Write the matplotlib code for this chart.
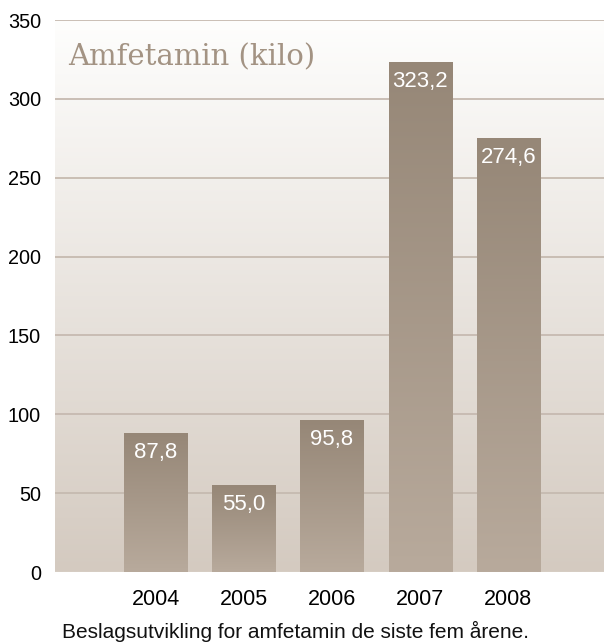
import numpy as np
import matplotlib.pyplot as plt
from matplotlib.colors import LinearSegmentedColormap

years = ['2004', '2005', '2006', '2007', '2008']
kilo = [87.8, 55.0, 95.8, 323.2, 274.6]
labels = ['87,8', '55,0', '95,8', '323,2', '274,6']

fig = plt.figure(figsize=(6.04, 6.43), dpi=100)
ax = fig.add_axes([55/604, 1-572/643, 549/604, 552/643])

x = np.arange(len(years))
ax.set_xlim(-1.142, 5.085)
ax.set_ylim(0, 350)

# background gradient
bg = LinearSegmentedColormap.from_list('bg', ['#d4cac0', '#fefefd'])
grad = np.linspace(0, 1, 256).reshape(-1, 1)
ax.imshow(grad, cmap=bg, aspect='auto', origin='lower',
          extent=[-1.142, 5.085, 0, 350], zorder=0)

for y in range(50, 351, 50):
    ax.axhline(y, color='#c6bab0', lw=1.3, zorder=1)
ax.axhline(0, color='#e2dbd4', lw=1, zorder=1)

barcm = LinearSegmentedColormap.from_list('bar', ['#b8aa9c', '#968777'])
bars = ax.bar(x, kilo, width=0.716, color='none', zorder=2)
for b, lab in zip(bars, labels):
    x0, w, h = b.get_x(), b.get_width(), b.get_height()
    g = np.linspace(0, 1, 256).reshape(-1, 1)
    ax.imshow(g, cmap=barcm, aspect='auto', origin='lower',
              extent=[x0, x0 + w, 0, h], zorder=2)
    ax.text(x0 + w/2, h - 12, lab, ha='center', va='center', color='white',
            fontsize=16, family='Liberation Sans', zorder=3)

ax.set_xlim(-1.142, 5.085)
ax.set_ylim(0, 350)
ax.set_xticks(x)
ax.set_xticklabels(years, fontsize=15.5, family='Liberation Sans')
ax.set_yticks(range(0, 351, 50))
ax.set_yticklabels([str(v) for v in range(0, 351, 50)], fontsize=14.3, family='Liberation Sans')
ax.tick_params(length=0, pad=10)
ax.tick_params(axis='x', pad=12)
for s in ax.spines.values():
    s.set_visible(False)

ax.text(68/604, 1-57/643, 'Amfetamin (kilo)', transform=fig.transFigure,
        fontsize=21, family='DejaVu Serif', color='#a39383', va='center', ha='left')
fig.text(296/604, 1-631/643, 'Beslagsutvikling for amfetamin de siste fem årene.',
         fontsize=15, family='Liberation Sans', ha='center', va='center', color='#111111')

fig.savefig('out.png', dpi=100)
